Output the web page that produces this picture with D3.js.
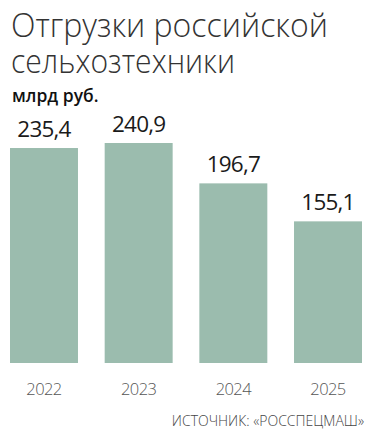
<!DOCTYPE html>
<html>
<head>
<meta charset="utf-8">
<script src="https://cdn.jsdelivr.net/npm/d3@7"></script>
<style>
  body { margin: 0; background: #fff; }
  text { font-family: "Open Sans", sans-serif; }
</style>
</head>
<body>
<div id="chart"></div>
<script>
const years = ["2022", "2023", "2024", "2025"];
const values = [235.4, 240.9, 196.7, 155.1];
const titleLines = ["Отгрузки российской", "сельхозтехники"];
const unitLabel = "млрд руб.";
const sourceLabel = "ИСТОЧНИК: «РОССПЕЦМАШ»";

const width = 382, height = 436;
const data = years.map((y, i) => ({ year: y, value: values[i] }));

const svg = d3.select("#chart")
    .append("svg")
    .attr("width", width)
    .attr("height", height);

// title as one text block, squeezed a bit to match the narrower original face
const titleWidths = [317, 224];
svg.append("text")
    .style("font-size", "33px")
    .style("font-weight", 300)
    .attr("fill", "#333")
    .selectAll("tspan")
    .data(titleLines)
    .enter()
    .append("tspan")
    .attr("x", 11)
    .attr("y", (d, i) => 37 + i * 36)
    .attr("textLength", (d, i) => titleWidths[i])
    .attr("lengthAdjust", "spacingAndGlyphs")
    .text(d => d);

svg.append("text")
    .attr("x", 12)
    .attr("y", 102)
    .style("font-size", "17.5px")
    .style("font-weight", 600)
    .attr("fill", "#111")
    .text(unitLabel);

// scales
const x = d3.scaleBand()
    .domain(years)
    .range([10, 362])
    .paddingInner(0.282)
    .paddingOuter(0);

const y = d3.scaleLinear()
    .domain([0, d3.max(values)])
    .range([363, 143]);

svg.selectAll(".bar")
    .data(data)
    .enter()
    .append("rect")
    .attr("x", d => x(d.year))
    .attr("y", d => y(d.value))
    .attr("width", x.bandwidth())
    .attr("height", d => y(0) - y(d.value))
    .attr("fill", "#9bbcae");

// value labels
svg.selectAll(".val")
    .data(data)
    .enter()
    .append("text")
    .attr("x", d => x(d.year) + x.bandwidth() / 2)
    .attr("y", d => y(d.value) - 11)
    .attr("text-anchor", "middle")
    .style("font-size", "22.5px")
    .style("letter-spacing", "-0.8px")
    .attr("fill", "#1a1a1a")
    .text(d => d3.format(".1f")(d.value).replace(".", ","));

// year axis
const axis = svg.append("g")
    .attr("transform", "translate(0,363)")
    .call(d3.axisBottom(x).tickSize(0).tickPadding(20));
axis.select(".domain").remove();
axis.selectAll("text")
    .style("font-size", "16.5px")
    .style("font-weight", 300)
    .style("letter-spacing", "-0.6px")
    .style("font-family", "'Open Sans', sans-serif")
    .attr("fill", "#555");

svg.append("text")
    .attr("x", 364)
    .attr("y", 426)
    .attr("text-anchor", "end")
    .style("font-size", "14px")
    .style("font-weight", 300)
    .attr("fill", "#444")
    .text(sourceLabel);
</script>
</body>
</html>
